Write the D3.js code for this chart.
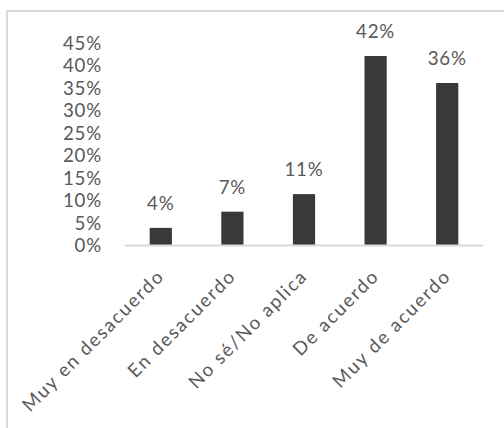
<!DOCTYPE html>
<html>
<head>
<meta charset="utf-8">
<script src="https://cdn.jsdelivr.net/npm/d3@7"></script>
<style>
  html, body { margin: 0; padding: 0; background: #fff; }
  svg { display: block; }
  text { font-family: Lato, "Open Sans", sans-serif; }
</style>
</head>
<body>
<svg id="chart" width="504" height="428"></svg>
<script>
const categories = ["Muy en desacuerdo", "En desacuerdo", "No sé/No aplica", "De acuerdo", "Muy de acuerdo"];
const values = [0.038, 0.074, 0.113, 0.42, 0.36];
const yTicks = [0, 0.05, 0.10, 0.15, 0.20, 0.25, 0.30, 0.35, 0.40, 0.45];

const svg = d3.select("#chart");
const W = 504, H = 428;
const FS = 18.7, LS = 0.8, LSX = 1.8;

// outer border
svg.append("rect")
  .attr("x", 7).attr("y", 11)
  .attr("width", W + 10).attr("height", H + 10)
  .attr("fill", "#fff")
  .attr("stroke", "#d9d9d9").attr("stroke-width", 2);

const x0 = 125, x1 = 483, yBase = 245;
const x = d3.scaleBand().domain(categories).range([x0, x1]).paddingInner(0.69).paddingOuter(0.345);
const y = d3.scaleLinear().domain([0, 0.45]).range([yBase, 42.5]);

const fmt = d3.format(".0%");
const textColor = "#595959";

// y axis labels (no line)
const yAxis = d3.axisLeft(y).tickValues(yTicks).tickFormat(fmt).tickSize(0).tickPadding(0);
const gy = svg.append("g").attr("transform", `translate(${102},0)`).call(yAxis);
gy.select(".domain").remove();
gy.selectAll("text")
  .attr("fill", textColor)
  .attr("font-size", FS)
  .attr("letter-spacing", LS)
  .attr("font-family", "Lato, sans-serif")
  .attr("dy", "0.36em");

// bars
svg.append("g").selectAll("rect")
  .data(values)
  .join("rect")
  .attr("x", (d, i) => x(categories[i]))
  .attr("y", d => y(d))
  .attr("width", x.bandwidth())
  .attr("height", d => y(0) - y(d))
  .attr("fill", "#3a3838");

// x axis line
const xAxis = d3.axisBottom(x).tickSize(0).tickPadding(0);
const gx = svg.append("g").attr("transform", `translate(0,${yBase})`).call(xAxis);
gx.select(".domain")
  .attr("d", `M${x0},0.5H${x1}`)
  .attr("stroke", "#d9d9d9").attr("stroke-width", 2);
gx.selectAll("text")
  .attr("fill", textColor)
  .attr("font-size", FS)
  .attr("letter-spacing", LSX)
  .attr("font-family", "Lato, sans-serif")
  .attr("text-anchor", "end")
  .attr("dy", "0")
  .attr("transform", "translate(4.7,32.3) rotate(-45)");

// value labels
svg.append("g").selectAll("text")
  .data(values)
  .join("text")
  .attr("x", (d, i) => x(categories[i]) + x.bandwidth() / 2)
  .attr("y", d => y(d) - 18)
  .attr("text-anchor", "middle")
  .attr("fill", textColor)
  .attr("font-size", FS)
  .attr("letter-spacing", LS)
  .text(d => fmt(d));
</script>
</body>
</html>
